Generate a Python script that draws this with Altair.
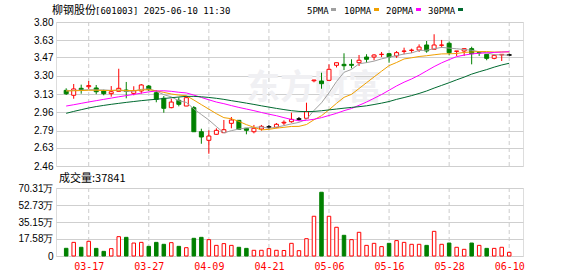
import altair as alt
import pandas as pd

# ---------------- data ----------------
opens = [3.164, 3.118, 3.183, 3.198, 3.186, 3.158, 3.133, 3.155, 3.167, 3.136,
         3.158, 3.204, 3.142, 3.090, 3.003, 3.071, 3.018, 3.003, 2.779, 2.699,
         2.755, 2.770, 2.857, 2.885, 2.811, 2.779, 2.804, 2.823, 2.820, 2.860,
         2.872, 2.897, 2.904, 3.253, 3.251, 3.257, 3.397, 3.406, 3.406, 3.421,
         3.474, 3.474, 3.497, 3.505, 3.484, 3.527, 3.535, 3.539, 3.586, 3.546,
         3.583, 3.602, 3.527, 3.530, 3.552, 3.516, 3.499, 3.462, 3.493, 3.493]
highs = [3.183, 3.223, 3.217, 3.251, 3.214, 3.170, 3.204, 3.365, 3.242, 3.202,
         3.223, 3.214, 3.164, 3.111, 3.086, 3.099, 3.111, 3.018, 2.807, 2.792,
         2.811, 2.888, 2.916, 2.888, 2.811, 2.842, 2.842, 2.842, 2.860, 2.885,
         2.956, 2.916, 3.049, 3.262, 3.328, 3.406, 3.421, 3.509, 3.453, 3.493,
         3.500, 3.500, 3.521, 3.512, 3.530, 3.561, 3.552, 3.592, 3.623, 3.686,
         3.633, 3.619, 3.530, 3.552, 3.570, 3.530, 3.499, 3.499, 3.499, 3.505]
lows = [3.121, 3.086, 3.133, 3.177, 3.128, 3.118, 3.105, 3.155, 3.090, 3.118,
        3.133, 3.158, 3.053, 2.956, 2.997, 3.015, 3.018, 2.779, 2.667, 2.574,
        2.751, 2.770, 2.811, 2.798, 2.755, 2.764, 2.789, 2.804, 2.811, 2.842,
        2.863, 2.879, 2.904, 3.239, 3.179, 3.257, 3.377, 3.353, 3.369, 3.391,
        3.421, 3.444, 3.474, 3.421, 3.466, 3.500, 3.512, 3.521, 3.514, 3.546,
        3.561, 3.490, 3.484, 3.484, 3.406, 3.484, 3.444, 3.453, 3.437, 3.481]
closes = [3.132, 3.177, 3.170, 3.208, 3.151, 3.133, 3.151, 3.183, 3.155, 3.161,
          3.214, 3.170, 3.080, 2.997, 3.055, 3.034, 3.096, 2.779, 2.730, 2.739,
          2.792, 2.798, 2.888, 2.801, 2.792, 2.811, 2.829, 2.823, 2.848, 2.867,
          2.894, 2.897, 2.965, 3.260, 3.226, 3.360, 3.421, 3.393, 3.397, 3.444,
          3.453, 3.493, 3.500, 3.474, 3.515, 3.530, 3.539, 3.567, 3.530, 3.586,
          3.586, 3.514, 3.530, 3.552, 3.505, 3.512, 3.462, 3.490, 3.499, 3.493]
volumes = [79500, 141000, 90000, 152000, 79000, 48000, 76000, 200000, 193000, 134000,
           141000, 100000, 141000, 121000, 138000, 100000, 86000, 183000, 193000, 169000,
           110000, 128000, 110000, 90000, 79000, 59000, 59000, 76000, 59000, 57000,
           131000, 55000, 179000, 411000, 659000, 411000, 297000, 214000, 169000, 245000,
           110000, 131000, 97000, 131000, 159000, 141000, 121000, 121000, 110000, 255000,
           121000, 134000, 90000, 69000, 134000, 110000, 79000, 79000, 90000, 37841]
vol_dir = ["down", "up", "down", "up", "down", "down", "up", "up", "down", "up",
           "up", "down", "down", "down", "up", "down", "up", "down", "down", "up",
           "up", "up", "up", "down", "down", "up", "up", "up", "up", "up",
           "up", "up", "up", "up", "down", "up", "up", "down", "up", "up",
           "up", "up", "up", "down", "up", "up", "up", "up", "down", "up",
           "up", "down", "up", "up", "down", "up", "down", "up", "up", "up"]
ma5 = [3.160, 3.163, 3.166, 3.170, 3.168, 3.168, 3.163, 3.165, 3.155, 3.157,
       3.173, 3.177, 3.156, 3.124, 3.103, 3.067, 3.052, 2.992, 2.939, 2.888,
       2.827, 2.768, 2.789, 2.804, 2.814, 2.818, 2.824, 2.811, 2.821, 2.836,
       2.852, 2.866, 2.894, 2.977, 3.048, 3.141, 3.246, 3.332, 3.359, 3.411,
       3.422, 3.436, 3.457, 3.473, 3.487, 3.502, 3.512, 3.535, 3.537, 3.551,
       3.564, 3.557, 3.551, 3.544, 3.537, 3.523, 3.513, 3.496, 3.494, 3.491]
ma10 = [3.158, 3.160, 3.162, 3.165, 3.165, 3.163, 3.163, 3.166, 3.162, 3.162,
        3.167, 3.170, 3.160, 3.145, 3.130, 3.120, 3.114, 3.074, 3.031, 2.989,
        2.947, 2.910, 2.900, 2.875, 2.845, 2.820, 2.796, 2.801, 2.812, 2.820,
        2.828, 2.829, 2.846, 2.890, 2.928, 2.983, 3.043, 3.099, 3.127, 3.181,
        3.235, 3.289, 3.342, 3.394, 3.423, 3.456, 3.467, 3.479, 3.486, 3.495,
        3.503, 3.504, 3.507, 3.517, 3.521, 3.525, 3.525, 3.520, 3.522, 3.521]
ma20 = [3.018, 3.030, 3.043, 3.056, 3.068, 3.080, 3.092, 3.104, 3.115, 3.126,
        3.138, 3.150, 3.158, 3.160, 3.155, 3.146, 3.140, 3.120, 3.098, 3.076,
        3.055, 3.040, 3.022, 3.005, 2.990, 2.975, 2.958, 2.942, 2.928, 2.910,
        2.893, 2.880, 2.885, 2.895, 2.910, 2.930, 2.950, 2.975, 2.995, 3.025,
        3.055, 3.090, 3.125, 3.165, 3.205, 3.240, 3.270, 3.305, 3.345, 3.385,
        3.420, 3.450, 3.478, 3.492, 3.503, 3.509, 3.513, 3.517, 3.520, 3.524]
ma30 = [2.950, 2.968, 2.984, 3.000, 3.013, 3.024, 3.034, 3.043, 3.052, 3.060,
        3.068, 3.075, 3.081, 3.088, 3.095, 3.102, 3.108, 3.108, 3.104, 3.098,
        3.090, 3.080, 3.068, 3.057, 3.045, 3.033, 3.020, 3.008, 2.996, 2.985,
        2.975, 2.968, 2.966, 2.968, 2.974, 2.982, 2.990, 2.998, 3.005, 3.012,
        3.020, 3.032, 3.045, 3.060, 3.080, 3.097, 3.115, 3.135, 3.158, 3.185,
        3.210, 3.235, 3.262, 3.287, 3.315, 3.337, 3.357, 3.380, 3.400, 3.416]

grid_idx = [3, 11, 19, 27, 35, 43, 51, 59]
grid_labels = ["03-17", "03-27", "04-09", "04-21", "05-06", "05-16", "05-28", "06-10"]
price_ticks = [2.46, 2.63, 2.79, 2.96, 3.13, 3.30, 3.47, 3.63, 3.80]
vol_ticks = [0, 175800, 351500, 527300, 703100]
vol_tick_labels = ["0", "17.58万", "35.15万", "52.73万", "70.31万"]
ma_names = ["5PMA", "10PMA", "20PMA", "30PMA"]
ma_colors = ["#a0a0a0", "#f0a000", "#ff00ff", "#006a30"]

title_cn = "柳钢股份"
title_rest = "[601003] 2025-06-10 11:30"
vol_title = "成交量:37841"
watermark = "东方财富"

# ---------------- tables ----------------
n = len(opens)
df = pd.DataFrame({"i": list(range(n)), "open": opens, "high": highs, "low": lows,
                   "close": closes, "vol": volumes, "vdir": vol_dir,
                   "ma5": ma5, "ma10": ma10, "ma20": ma20, "ma30": ma30})
df["dir"] = ["up" if c > o else ("down" if c < o else "flat") for o, c in zip(opens, closes)]
df["xl"] = df["i"] - 0.33
df["xr"] = df["i"] + 0.33
grid_df = pd.DataFrame({"g": grid_idx})
one = pd.DataFrame({"k": [0]})

MONO = "DejaVu Sans Mono"
W = 467
xscale = alt.Scale(domain=[-0.69, 60.17], nice=False, zero=False)
yscale = alt.Scale(domain=[2.46, 3.80], nice=False, zero=False)
dir_dom = ["up", "down", "flat"]
stroke_enc = alt.Stroke("dir:N", scale=alt.Scale(domain=dir_dom, range=["#ff0000", "#008000", "#000000"]), legend=None)
fill_enc = alt.Fill("dir:N", scale=alt.Scale(domain=dir_dom, range=["#ffffff", "#008000", "#000000"]), legend=None)

price_axis = alt.Axis(values=price_ticks, format=".2f", grid=True, gridColor="#cfcfcf",
                      domain=False, ticks=False, labelPadding=3, minExtent=55, maxExtent=55,
                      title=None)
X = lambda f: alt.X(f, scale=xscale, axis=None)
Y = lambda f: alt.Y(f, scale=yscale, axis=price_axis)

base = alt.Chart(df)
vgrid = alt.Chart(grid_df).mark_rule(color="#cccccc", strokeDash=[4, 3], strokeWidth=1).encode(
    x=alt.X("g:Q", scale=xscale, axis=None))
wm = alt.Chart(one).mark_text(text=watermark, font="Noto Sans CJK SC", fontSize=34, fontWeight="bold",
                              color="#f0f0f3", align="center", baseline="middle").encode(
    x=alt.value(258), y=alt.value(67))
wick = base.mark_rule(strokeWidth=1).encode(x=X("i:Q"), y=Y("low:Q"), y2="high:Q", stroke=stroke_enc)
body = base.mark_bar(width=4, strokeWidth=1).encode(x=X("i:Q"), y=Y("open:Q"), y2="close:Q",
                                                     stroke=stroke_enc, fill=fill_enc)
flat = base.transform_filter(alt.datum.dir == "flat").mark_rule(strokeWidth=1).encode(
    x=X("xl:Q"), x2="xr:Q", y=Y("close:Q"), stroke=stroke_enc)
lines = [base.mark_line(strokeWidth=1, color=c, interpolate="linear").encode(x=X("i:Q"), y=Y(f"{f}:Q"))
         for f, c in zip(["ma5", "ma10", "ma20", "ma30"], ma_colors)]

t1 = alt.Chart(one).mark_text(text=title_cn, font="Noto Sans CJK SC", fontSize=11, align="left",
                              baseline="alphabetic", color="#000000").encode(x=alt.value(-4), y=alt.value(-8))
t2 = alt.Chart(one).mark_text(text=title_rest, font=MONO, fontSize=9, align="left",
                              baseline="alphabetic", color="#000000").encode(x=alt.value(39), y=alt.value(-8))
leg = []
leg_x = [251, 288, 330, 372]
sq_x = [275, 318, 360, 402]
for name, col, lx, sx in zip(ma_names, ma_colors, leg_x, sq_x):
    leg.append(alt.Chart(one).mark_text(text=name, font=MONO, fontSize=9, align="left",
                                        baseline="alphabetic", color="#000000").encode(
        x=alt.value(lx), y=alt.value(-8)))
    leg.append(alt.Chart(one).mark_rect(color=col).encode(
        x=alt.value(sx), x2=alt.value(sx + 5), y=alt.value(-14), y2=alt.value(-11)))

price = alt.layer(vgrid, wm, wick, body, flat, *lines, t1, t2, *leg).properties(width=W, height=144)

# ---------------- volume ----------------
vdom = ["up", "down"]
vscale = alt.Scale(domain=[0, 703100], nice=False, zero=True)
vlab_list = "[" + ",".join(f"'{s}'" for s in vol_tick_labels) + "]"
vidx_list = "[" + ",".join(str(v) for v in vol_ticks) + "]"
vol_axis = alt.Axis(values=vol_ticks, grid=True, gridColor="#cfcfcf", domain=False, ticks=False,
                    labelPadding=3, minExtent=55, maxExtent=55, title=None,
                    labelExpr=f"{vlab_list}[indexof({vidx_list}, datum.value)]")
lab_list = "[" + ",".join(f"'{s}'" for s in grid_labels) + "]"
idx_list = "[" + ",".join(str(g) for g in grid_idx) + "]"
vx_axis = alt.Axis(values=grid_idx, labelExpr=f"{lab_list}[indexof({idx_list}, datum.value)]",
                   labelColor="#ff0000", labelFont=MONO, labelFontSize=10,
                   domain=False, ticks=False, grid=False, labelPadding=5, title=None)
vgrid2 = alt.Chart(grid_df).mark_rule(color="#cccccc", strokeDash=[4, 3], strokeWidth=1).encode(
    x=alt.X("g:Q", scale=xscale, axis=vx_axis))
vbars = base.mark_bar(width=3.5, strokeWidth=1).encode(
    x=alt.X("i:Q", scale=xscale, axis=vx_axis),
    y=alt.Y("vol:Q", scale=vscale, axis=vol_axis),
    stroke=alt.Stroke("vdir:N", scale=alt.Scale(domain=vdom, range=["#ff0000", "#008000"]), legend=None),
    fill=alt.Fill("vdir:N", scale=alt.Scale(domain=vdom, range=["#ffffff", "#008000"]), legend=None))
vt = alt.Chart(one).mark_text(text=vol_title, font="Noto Sans CJK SC", fontSize=11, align="left",
                              baseline="alphabetic", color="#000000").encode(x=alt.value(3), y=alt.value(-6))
volume = alt.layer(vgrid2, vbars, vt).properties(width=W, height=68)

chart = alt.vconcat(price, volume, spacing=22, bounds="flush").properties(
    padding={"left": 0, "top": 4, "right": 0, "bottom": 0}
).configure_view(stroke="#a0a0a0", strokeWidth=1).configure_axis(
    labelFont="Liberation Sans", labelFontSize=12, labelColor="#000000"
).configure(background="#ffffff")

chart.save("out.html", embed_options={"renderer": "svg", "actions": False})
